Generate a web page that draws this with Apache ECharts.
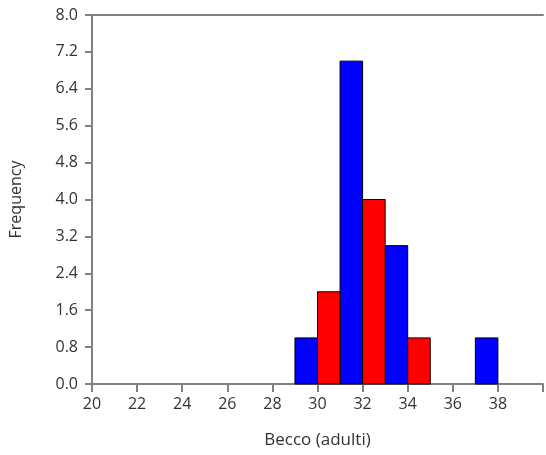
<!DOCTYPE html>
<html>
<head>
<meta charset="utf-8">
<script src="https://cdn.jsdelivr.net/npm/echarts@6/dist/echarts.min.js"></script>
<style>html,body{margin:0;padding:0;background:#fff;}#c{width:546px;height:455px;}</style>
</head>
<body>
<div id="c"></div>
<script>
// Histogram bins (bin start, width 1) and frequencies
var blueBins = [29, 31, 33, 37];
var blueCounts = [1, 7, 3, 1];
var redBins = [30, 32, 34];
var redCounts = [2, 4, 1];
var binWidth = 1;
var xTicks = [20, 22, 24, 26, 28, 30, 32, 34, 36, 38];

function toData(bins, counts) {
  return bins.map(function (b, i) { return [b, b + binWidth, counts[i]]; });
}

function renderBar(params, api) {
  var p0 = api.coord([api.value(0), api.value(2)]);
  var p1 = api.coord([api.value(1), 0]);
  return {
    type: 'rect',
    shape: { x: p0[0], y: p0[1], width: p1[0] - p0[0], height: p1[1] - p0[1] },
    style: { fill: api.visual('color'), stroke: '#000', lineWidth: 1 }
  };
}

var chart = echarts.init(document.getElementById('c'));
var font = '"Open Sans", sans-serif';
chart.setOption({
  animation: false,
  grid: { left: 90, top: 15, right: 0, bottom: 71 },
  xAxis: [{
    type: 'value', min: 20, max: 40, interval: 2,
    name: 'Becco (adulti)', nameLocation: 'middle', nameGap: 48,
    nameTextStyle: { color: '#333', fontSize: 17, fontFamily: font },
    axisLine: { show: true, lineStyle: { color: '#7f7f7f', width: 2 } },
    axisTick: { show: true, length: 8, lineStyle: { color: '#7f7f7f', width: 2 } },
    axisLabel: {
      color: '#333', fontSize: 16, fontFamily: font, margin: 12,
      formatter: function (v) { return xTicks.indexOf(v) >= 0 ? String(v) : ''; }
    },
    splitLine: { show: false }
  }, {
    type: 'value', min: 20, max: 40, position: 'top',
    axisLine: { show: true, lineStyle: { color: '#7f7f7f', width: 2 } },
    axisTick: { show: false }, axisLabel: { show: false }, splitLine: { show: false }
  }],
  yAxis: {
    type: 'value', min: 0, max: 8, interval: 0.8,
    name: 'Frequency', nameLocation: 'middle', nameGap: 68,
    nameTextStyle: { color: '#333', fontSize: 16, fontFamily: font },
    axisLine: { show: true, lineStyle: { color: '#7f7f7f', width: 2 } },
    axisTick: { show: true, length: 7, lineStyle: { color: '#7f7f7f', width: 2 } },
    axisLabel: {
      color: '#333', fontSize: 16, fontFamily: font, margin: 14,
      formatter: function (v) { return v.toFixed(1); }
    },
    splitLine: { show: false }
  },
  series: [{
    type: 'custom', renderItem: renderBar, itemStyle: { color: '#0000ff' },
    encode: { x: [0, 1], y: 2 }, data: toData(blueBins, blueCounts)
  }, {
    type: 'custom', renderItem: renderBar, itemStyle: { color: '#ff0000' },
    encode: { x: [0, 1], y: 2 }, data: toData(redBins, redCounts)
  }]
});
</script>
</body>
</html>
